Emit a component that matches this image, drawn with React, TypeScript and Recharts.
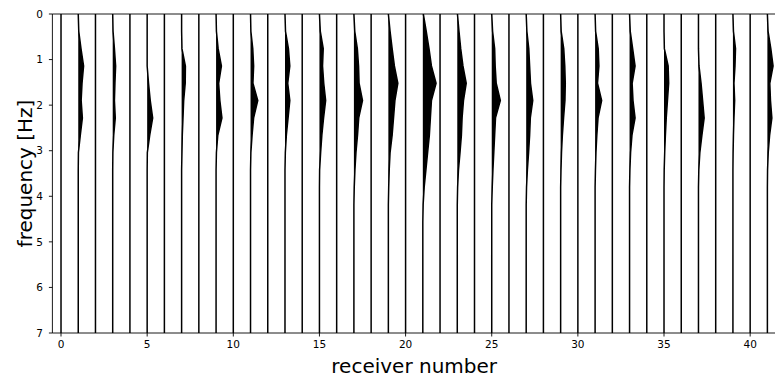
import React from 'react';
import { ComposedChart, Area, Line, XAxis, YAxis, ReferenceLine } from 'recharts';

// frequency samples (Hz), top to bottom
const FREQUENCIES = [0, 0.38, 0.76, 1.14, 1.52, 1.9, 2.28, 2.66, 3.04, 3.42, 3.8, 4.18, 4.56, 4.94, 5.32, 5.7, 6.08, 6.46, 6.84, 7.0];

const RECEIVERS = [0, 1, 2, 3, 4, 5, 6, 7, 8, 9, 10, 11, 12, 13, 14, 15, 16, 17, 18, 19, 20, 21, 22, 23, 24, 25, 26, 27, 28, 29, 30, 31, 32, 33, 34, 35, 36, 37, 38, 39, 40, 41];
const X_TICKS = [0, 5, 10, 15, 20, 25, 30, 35, 40];
const Y_TICKS = [0, 1, 2, 3, 4, 5, 6, 7];

// amplitude (in receiver units) per frequency sample; missing samples are 0
const FLAT: number[] = [];
const AMP_1 = [0, 0.03, 0.16, 0.31, 0.22, 0.17, 0.24, 0.12, 0.01];
const AMP_3 = [0, 0.02, 0.1, 0.17, 0.13, 0.1, 0.15, 0.06, 0.01];
const AMP_5 = [0, 0, 0, 0, 0.08, 0.18, 0.32, 0.15, 0.01];
const AMP_7 = [0, 0, 0.02, 0.22, 0.21, 0.12, 0.08, 0.04, 0.02];
const AMP_9 = [0, 0.02, 0.12, 0.31, 0.15, 0.22, 0.34, 0.1, 0.02];
const AMP_11 = [0, 0.02, 0.13, 0.18, 0.14, 0.42, 0.18, 0.09, 0.02];
const AMP_13 = [0, 0.03, 0.2, 0.28, 0.16, 0.28, 0.18, 0.08, 0.02];
const AMP_15 = [0, 0.05, 0.22, 0.18, 0.25, 0.36, 0.24, 0.14, 0.07, 0.01];
const AMP_17 = [0, 0.05, 0.2, 0.27, 0.3, 0.5, 0.28, 0.21, 0.12, 0.06, 0.02];
const AMP_19 = [0, 0.1, 0.22, 0.35, 0.55, 0.38, 0.3, 0.22, 0.1, 0.05, 0.02];
const AMP_21 = [0.03, 0.2, 0.36, 0.5, 0.77, 0.5, 0.44, 0.38, 0.28, 0.18, 0.08, 0.02];
const AMP_23 = [0.01, 0.1, 0.2, 0.33, 0.52, 0.36, 0.28, 0.24, 0.16, 0.07, 0.02];
const AMP_25 = [0, 0.05, 0.17, 0.2, 0.26, 0.5, 0.22, 0.17, 0.12, 0.07, 0.03];
const AMP_27 = [0, 0.04, 0.15, 0.2, 0.25, 0.38, 0.24, 0.2, 0.14, 0.07, 0.02];
const AMP_29 = [0, 0.03, 0.18, 0.24, 0.27, 0.25, 0.17, 0.1, 0.05, 0.02];
const AMP_31 = [0, 0.03, 0.18, 0.22, 0.14, 0.38, 0.17, 0.1, 0.05, 0.02];
const AMP_33 = [0, 0.04, 0.18, 0.32, 0.15, 0.2, 0.32, 0.14, 0.06, 0.02];
const AMP_35 = [0, 0, 0.02, 0.24, 0.27, 0.2, 0.13, 0.08, 0.04, 0.01];
const AMP_37 = [0, 0, 0, 0.03, 0.15, 0.24, 0.33, 0.2, 0.08, 0.02];
const AMP_39 = [0, 0.03, 0.15, 0.12, 0.06, 0.1, 0.06, 0.03, 0.01];
const AMP_41 = [0, 0.04, 0.2, 0.33, 0.14, 0.18, 0.26, 0.13, 0.05, 0.01];

const TRACES = [
  FLAT, AMP_1, FLAT, AMP_3, FLAT, AMP_5, FLAT, AMP_7, FLAT, AMP_9,
  FLAT, AMP_11, FLAT, AMP_13, FLAT, AMP_15, FLAT, AMP_17, FLAT, AMP_19,
  FLAT, AMP_21, FLAT, AMP_23, FLAT, AMP_25, FLAT, AMP_27, FLAT, AMP_29,
  FLAT, AMP_31, FLAT, AMP_33, FLAT, AMP_35, FLAT, AMP_37, FLAT, AMP_39,
  FLAT, AMP_41,
];

const rows = FREQUENCIES.map((f, k) => {
  const row: Record<string, any> = { f };
  RECEIVERS.forEach((r, i) => {
    const a = TRACES[i][k] ?? 0;
    row[`w${i}`] = r + a;
    row[`p${i}`] = [r, r + Math.max(a, 0)];
  });
  return row;
});

const FONT = "'DejaVu Sans', sans-serif";

const XLabel = (props: any) => {
  const vb = props.viewBox || { x: 52, y: 333, width: 724, height: 48 };
  return (
    <text x={vb.x + vb.width / 2} y={vb.y + 40} textAnchor="middle" fontSize={20} fontFamily={FONT} fill="#000">
      receiver number
    </text>
  );
};

const YLabel = (props: any) => {
  const vb = props.viewBox || { x: 0, y: 14, width: 52, height: 319 };
  const cx = vb.x + 31.7;
  const cy = vb.y + vb.height / 2;
  return (
    <text x={cx} y={cy} transform={`rotate(-90, ${cx}, ${cy})`} textAnchor="middle" fontSize={20} fontFamily={FONT} fill="#000">
      frequency [Hz]
    </text>
  );
};

export default function App() {
  return (
    <div style={{ position: 'absolute', left: 0, top: 0, width: 775, height: 381, overflow: 'hidden', background: '#fff' }}>
      <ComposedChart
        layout="vertical"
        width={776}
        height={381}
        data={rows}
        margin={{ top: 14, right: 0, bottom: 0, left: 0 }}
      >
        <XAxis
          type="number"
          domain={[-0.5, 41.5]}
          ticks={X_TICKS}
          allowDataOverflow
          height={48}
          tickSize={3.5}
          tickMargin={4.5}
          axisLine={{ stroke: '#000', strokeWidth: 0.9 }}
          tickLine={{ stroke: '#000', strokeWidth: 0.9 }}
          tick={{ fill: '#000', fontSize: 10.5, fontFamily: FONT }}
          label={<XLabel />}
        />
        <YAxis
          type="number"
          dataKey="f"
          domain={[0, 7]}
          ticks={Y_TICKS}
          allowDataOverflow
          width={52.4}
          tickSize={3.5}
          tickMargin={6}
          axisLine={{ stroke: '#000', strokeWidth: 0.9 }}
          tickLine={{ stroke: '#000', strokeWidth: 0.9 }}
          tick={{ fill: '#000', fontSize: 10.5, fontFamily: FONT }}
          label={<YLabel />}
        />
        <ReferenceLine y={0} stroke="#000" strokeWidth={0.9} />
        {RECEIVERS.map((r, i) => (
          <Area
            key={`a${i}`}
            dataKey={`p${i}`}
            type="linear"
            fill="#000"
            fillOpacity={1}
            stroke="none"
            isAnimationActive={false}
            activeDot={false}
          />
        ))}
        {RECEIVERS.map((r, i) => (
          <Line
            key={`l${i}`}
            dataKey={`w${i}`}
            type="linear"
            stroke="#000"
            strokeWidth={1.5}
            dot={false}
            activeDot={false}
            isAnimationActive={false}
          />
        ))}
      </ComposedChart>
    </div>
  );
}
